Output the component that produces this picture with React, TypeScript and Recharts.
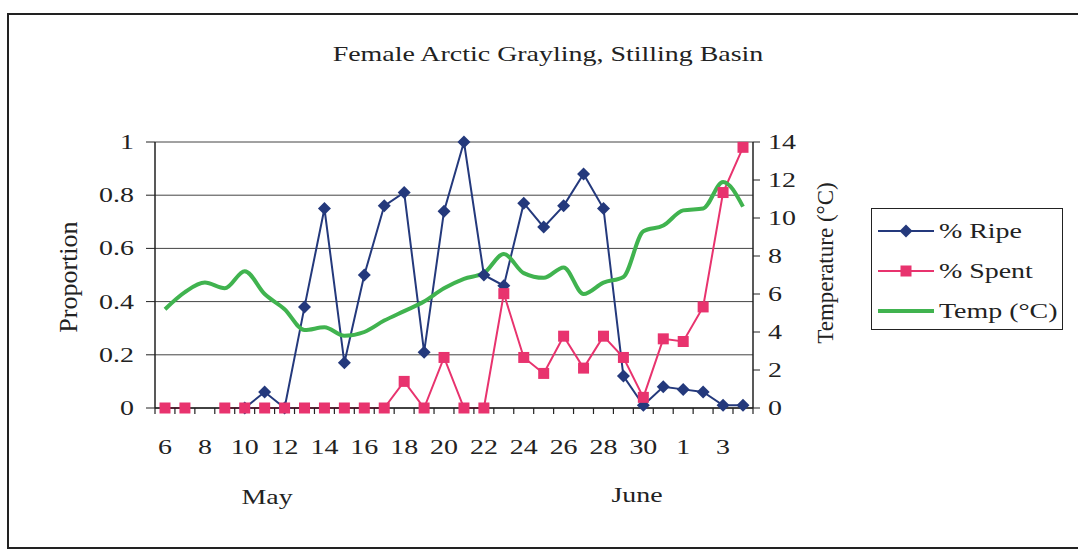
import { LineChart, Line, XAxis, YAxis, CartesianGrid, Legend } from "recharts";

// May 6 .. June 4
const days = [
  "6", "7", "8", "9", "10", "11", "12", "13", "14", "15", "16", "17", "18", "19", "20",
  "21", "22", "23", "24", "25", "26", "27", "28", "29", "30", "31", "1", "2", "3", "4",
];
const ripe = [
  null, null, null, null, 0, 0.06, 0, 0.38, 0.75, 0.17, 0.5, 0.76, 0.81, 0.21, 0.74,
  1.0, 0.5, 0.46, 0.77, 0.68, 0.76, 0.88, 0.75, 0.12, 0.01, 0.08, 0.07, 0.06, 0.01, 0.01,
];
const spent = [
  0, 0, null, 0, 0, 0, 0, 0, 0, 0, 0, 0, 0.1, 0, 0.19,
  0, 0, 0.43, 0.19, 0.13, 0.27, 0.15, 0.27, 0.19, 0.04, 0.26, 0.25, 0.38, 0.81, 0.98,
];
const temp = [
  5.2, 6.1, 6.6, 6.3, 7.2, 6.0, 5.2, 4.1, 4.25, 3.8, 4.0, 4.6, 5.1, 5.6, 6.3,
  6.8, 7.1, 8.1, 7.1, 6.85, 7.4, 6.0, 6.6, 6.9, 9.3, 9.6, 10.4, 10.5, 11.9, 10.6,
];
const propTicks = [0, 0.2, 0.4, 0.6, 0.8, 1];
const tempTicks = [0, 2, 4, 6, 8, 10, 12, 14];

const data = days.map((day, i) => ({ day, ripe: ripe[i], spent: spent[i], temp: temp[i] }));

const BLUE = "#24397c";
const PINK = "#e8336e";
const GREEN = "#40b34f";
const INK = "#222";
const FONT = "'Liberation Serif', 'Times New Roman', serif";
const STRETCH = 1.27; // the scanned original is wider than tall

// horizontally stretched svg text
const SText = ({ x, y, anchor = "middle", size = 22, children }: any) => (
  <text
    transform={`translate(${x},${y}) scale(${STRETCH},1)`}
    textAnchor={anchor}
    fontSize={size}
    fontFamily={FONT}
    fill={INK}
  >
    {children}
  </text>
);

const Diamond = (props: any) => {
  const { cx, cy, index } = props;
  if (cx == null || cy == null) return <g key={`d${index}`} />;
  return (
    <polygon
      key={`d${index}`}
      points={`${cx},${cy - 6.5} ${cx + 6.5},${cy} ${cx},${cy + 6.5} ${cx - 6.5},${cy}`}
      fill={BLUE}
    />
  );
};

const Square = (props: any) => {
  const { cx, cy, index } = props;
  if (cx == null || cy == null) return <g key={`s${index}`} />;
  return <rect key={`s${index}`} x={cx - 5.5} y={cy - 5.5} width={11} height={11} fill={PINK} />;
};

// every other label, tick marks between categories (Excel style)
const DayTick = (props: any) => {
  const { x, y, payload, index } = props;
  const axisY = y - 8;
  const half = 10;
  return (
    <g>
      <line x1={x - half} x2={x - half} y1={axisY} y2={axisY + 6} stroke={INK} strokeWidth={1.2} />
      {index === days.length - 1 && (
        <line x1={x + half} x2={x + half} y1={axisY} y2={axisY + 6} stroke={INK} strokeWidth={1.2} />
      )}
      {index % 2 === 0 && (
        <SText x={x} y={axisY + 46}>
          {payload.value}
        </SText>
      )}
    </g>
  );
};

const LeftTick = (props: any) => {
  const { x, y, payload } = props;
  return (
    <SText x={x} y={y + 7} anchor="end">
      {String(payload.value)}
    </SText>
  );
};

const RightTick = (props: any) => {
  const { x, y, payload } = props;
  return (
    <SText x={x} y={y + 7} anchor="start">
      {String(payload.value)}
    </SText>
  );
};

const legendItems = [
  { name: "% Ripe", color: BLUE, mark: "diamond" },
  { name: "% Spent", color: PINK, mark: "square" },
  { name: "Temp (°C)", color: GREEN, mark: "none" },
];

const renderLegend = () => (
  <div style={{ width: 192, height: 122, border: "1.5px solid #222", background: "#fff", boxSizing: "border-box" }}>
    <svg width={190} height={120}>
      {legendItems.map((it, i) => {
        const cy = 22 + i * 40;
        return (
          <g key={it.name}>
            <line x1={6} x2={62} y1={cy} y2={cy} stroke={it.color} strokeWidth={it.mark === "none" ? 4 : 2} />
            {it.mark === "diamond" && (
              <polygon points={`34,${cy - 6.5} 40.5,${cy} 34,${cy + 6.5} 27.5,${cy}`} fill={it.color} />
            )}
            {it.mark === "square" && <rect x={28.5} y={cy - 5.5} width={11} height={11} fill={it.color} />}
            <SText x={67} y={cy + 7} anchor="start">
              {it.name}
            </SText>
          </g>
        );
      })}
    </svg>
  </div>
);

const htmlText = (left: number, top: number, text: string) => (
  <div
    style={{
      position: "absolute",
      left: left - 200,
      top,
      width: 400,
      textAlign: "center",
      fontSize: 22,
      color: INK,
      transform: `scaleX(${STRETCH})`,
    }}
  >
    {text}
  </div>
);

export default function App() {
  return (
    <div style={{ position: "absolute", left: 0, top: 0, width: 1078, height: 556, background: "#fff", fontFamily: FONT }}>
      <div
        style={{
          position: "absolute",
          left: 7,
          top: 13,
          width: 1071,
          height: 536,
          border: "2px solid #222",
          borderRight: "none",
          boxSizing: "border-box",
        }}
      />
      {htmlText(548, 41, "Female Arctic Grayling, Stilling Basin")}
      {htmlText(267, 484, "May")}
      {htmlText(637, 482, "June")}
      <div style={{ position: "absolute", left: 0, top: 0 }}>
        <LineChart width={1078} height={556} data={data} margin={{ top: 142, right: 265, bottom: 118, left: 95 }}>
          <CartesianGrid yAxisId="l" vertical={false} stroke="#444" strokeWidth={1} />
          <XAxis
            dataKey="day"
            interval={0}
            tickLine={false}
            padding={{ left: 10, right: 10 }}
            axisLine={{ stroke: INK, strokeWidth: 1.5 }}
            height={30}
            tick={<DayTick />}
          />
          <YAxis
            yAxisId="l"
            domain={[0, 1]}
            ticks={propTicks}
            width={60}
            tickSize={9}
            tickMargin={12}
            axisLine={{ stroke: INK, strokeWidth: 1.5 }}
            tickLine={{ stroke: INK }}
            tick={<LeftTick />}
            label={{
              content: ({ viewBox }: any) => {
                const cx = viewBox.x - 27;
                const cy = viewBox.y + viewBox.height / 2 + 2;
                return (
                  <text
                    x={cx}
                    y={cy}
                    transform={`rotate(-90, ${cx}, ${cy})`}
                    textAnchor="middle"
                    dominantBaseline="central"
                    fontSize={26}
                    fontFamily={FONT}
                    fill={INK}
                  >
                    Proportion
                  </text>
                );
              },
            }}
          />
          <YAxis
            yAxisId="r"
            orientation="right"
            domain={[0, 14]}
            ticks={tempTicks}
            width={60}
            tickSize={7}
            tickMargin={8}
            axisLine={{ stroke: INK, strokeWidth: 1.5 }}
            tickLine={{ stroke: INK }}
            tick={<RightTick />}
            label={{
              content: ({ viewBox }: any) => {
                const cx = viewBox.x + 72;
                const cy = viewBox.y + viewBox.height / 2 - 12;
                return (
                  <text
                    x={cx}
                    y={cy}
                    transform={`rotate(-90, ${cx}, ${cy})`}
                    textAnchor="middle"
                    dominantBaseline="central"
                    fontSize={23}
                    fontFamily={FONT}
                    fill={INK}
                  >
                    Temperature (°C)
                  </text>
                );
              },
            }}
          />
          <Legend
            layout="horizontal"
            align="center"
            verticalAlign="middle"
            content={renderLegend}
            wrapperStyle={{ position: "absolute", left: 871, top: 208, width: 192, height: 122 }}
          />
          <Line
            yAxisId="l"
            dataKey="ripe"
            stroke={BLUE}
            strokeWidth={2}
            dot={Diamond}
            activeDot={false}
            isAnimationActive={false}
          />
          <Line
            yAxisId="l"
            dataKey="spent"
            stroke={PINK}
            strokeWidth={2}
            dot={Square}
            activeDot={false}
            isAnimationActive={false}
          />
          <Line
            yAxisId="r"
            type="monotone"
            dataKey="temp"
            stroke={GREEN}
            strokeWidth={4}
            dot={false}
            activeDot={false}
            isAnimationActive={false}
          />
        </LineChart>
      </div>
    </div>
  );
}
